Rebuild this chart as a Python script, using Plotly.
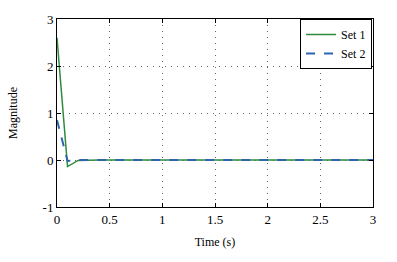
import plotly.graph_objects as go

time_s = [round(0.1 * i, 1) for i in range(31)]
set1 = [2.6, -0.14, -0.01] + [0.0] * 28
set2 = [0.85, -0.02, 0.0] + [0.0] * 28
x_ticks = [0, 0.5, 1, 1.5, 2, 2.5, 3]
x_ticktext = ["0", "0.5", "1", "1.5", "2", "2.5", "3"]
y_ticks = [-1, 0, 1, 2, 3]
y_ticktext = ["-1", "0", "1", "2", "3"]

font = "Liberation Serif, Times New Roman, serif"

fig = go.Figure()
fig.add_trace(go.Scatter(x=time_s, y=set1, mode="lines", name="Set 1",
                         line=dict(color="#2e8b3e", width=1.5)))
fig.add_trace(go.Scatter(x=time_s, y=set2, mode="lines", name="Set 2",
                         line=dict(color="#2f64b0", width=2, dash="dash")))

axis_common = dict(showline=True, linecolor="black", linewidth=1, mirror="ticks",
                   ticks="inside", ticklen=4, tickcolor="black",
                   showgrid=True, gridcolor="rgba(0,0,0,0.6)", griddash="1px,5px", gridwidth=1,
                   zeroline=False, tickfont=dict(family=font, size=13, color="black"))

fig.update_layout(
    width=397, height=262,
    margin=dict(l=56, r=24, t=16, b=55),
    paper_bgcolor="white", plot_bgcolor="white",
    font=dict(family=font, size=12, color="black"),
    xaxis=dict(range=[0, 3], tickvals=x_ticks, ticktext=x_ticktext,
               title=dict(text="Time (s)", font=dict(family=font, size=12), standoff=12),
               **axis_common),
    yaxis=dict(range=[-1, 3], tickvals=y_ticks, ticktext=y_ticktext,
               title=dict(text="Magnitude", font=dict(family=font, size=12), standoff=22),
               **axis_common),
    legend=dict(x=0.997, y=1.0, xanchor="right", yanchor="top",
                bordercolor="black", borderwidth=1, bgcolor="white",
                font=dict(family=font, size=12),
                tracegroupgap=0, itemwidth=30),
    showlegend=True,
)

fig.write_html("out.html")
